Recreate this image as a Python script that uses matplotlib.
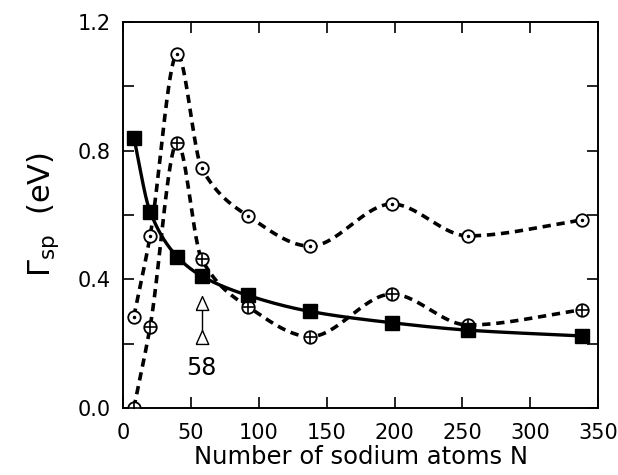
import numpy as np
import matplotlib
matplotlib.use("Agg")
import matplotlib.pyplot as plt
from matplotlib.ticker import MultipleLocator, FuncFormatter

# ---- data ----
N = [8, 20, 40, 58, 92, 138, 198, 254, 338]
gamma_total = [0.84, 0.61, 0.47, 0.41, 0.35, 0.30, 0.265, 0.242, 0.224]   # filled squares
gamma_dot = [0.284, 0.535, 1.10, 0.745, 0.597, 0.503, 0.634, 0.535, 0.584]  # circles with dot
gamma_plus = [0.0, 0.253, 0.825, 0.462, 0.315, 0.222, 0.354, 0.258, 0.305]  # circles with plus
marker_N = 58
marker_label = "58"

x_ticks = [0, 50, 100, 150, 200, 250, 300, 350]
y_labels = [0.0, 0.4, 0.8, 1.2]


def pchip(x, y, xs):
    x = np.asarray(x, float); y = np.asarray(y, float)
    h = np.diff(x); d = np.diff(y) / h
    n = len(x)
    m = np.zeros(n)
    for k in range(1, n - 1):
        if d[k - 1] * d[k] <= 0:
            m[k] = 0.0
        else:
            w1 = 2 * h[k] + h[k - 1]
            w2 = h[k] + 2 * h[k - 1]
            m[k] = (w1 + w2) / (w1 / d[k - 1] + w2 / d[k])
    m[0] = d[0]; m[-1] = d[-1]
    idx = np.clip(np.searchsorted(x, xs) - 1, 0, n - 2)
    t = (xs - x[idx]) / h[idx]
    h00 = 2 * t**3 - 3 * t**2 + 1
    h10 = t**3 - 2 * t**2 + t
    h01 = -2 * t**3 + 3 * t**2
    h11 = t**3 - t**2
    return h00 * y[idx] + h10 * h[idx] * m[idx] + h01 * y[idx + 1] + h11 * h[idx] * m[idx + 1]


fig = plt.figure(figsize=(6.18, 4.75), dpi=100)
ax = fig.add_axes([0.199, 0.141, 0.769, 0.813])

xs = np.linspace(N[0], N[-1], 800)
ax.plot(xs, pchip(N, gamma_dot, xs), color='black', lw=2.6, dashes=(2.3, 1.6), zorder=2)
ax.plot(xs, pchip(N, gamma_plus, xs), color='black', lw=2.6, dashes=(2.3, 1.6), zorder=2)
ax.plot(xs, pchip(N, gamma_total, xs), color='black', lw=2.4, zorder=3)

# markers
ax.plot(N, gamma_dot, 'o', ms=9, mfc='white', mec='black', mew=1.3, zorder=4)
ax.plot(N, gamma_dot, '.', ms=3, color='black', zorder=5)
ax.plot(N, gamma_plus, 'o', ms=9, mfc='white', mec='black', mew=1.3, zorder=4)
ax.plot(N, gamma_plus, '+', ms=9, color='black', mew=1.2, zorder=5)
ax.plot(N, gamma_total, 's', ms=9.5, color='black', zorder=6)

# annotation: double open arrow at N=58
ax.plot([marker_N, marker_N], [0.22, 0.32], color='black', lw=1.0, zorder=3)
ax.plot([marker_N, marker_N], [0.222, 0.326],
        marker=[(-0.45, -0.5), (0.45, -0.5), (0, 0.5), (-0.45, -0.5)],
        ls='none', ms=10, mfc='white', mec='black', mew=1.0, zorder=4)
ax.text(marker_N, 0.125, marker_label, ha='center', va='center', fontsize=17)

ax.set_xlim(0, 350)
ax.set_ylim(0, 1.2)
ax.set_xticks(x_ticks)
ax.yaxis.set_major_locator(MultipleLocator(0.2))
ax.yaxis.set_major_formatter(FuncFormatter(
    lambda v, p: ("%.1f" % v) if any(abs(v - t) < 1e-6 for t in y_labels) else ""))
ax.tick_params(direction='in', length=8, width=1.2, top=True, right=True,
               labelsize=15, pad=9)
ax.tick_params(axis='x', pad=11)
for s in ax.spines.values():
    s.set_linewidth(1.4)

ax.set_xlabel("Number of sodium atoms N", fontsize=17.5, labelpad=1)
ax.set_ylabel(r"$\Gamma_{\rm sp}$  (eV)", fontsize=22, labelpad=12)

fig.savefig("out.png", dpi=100)
